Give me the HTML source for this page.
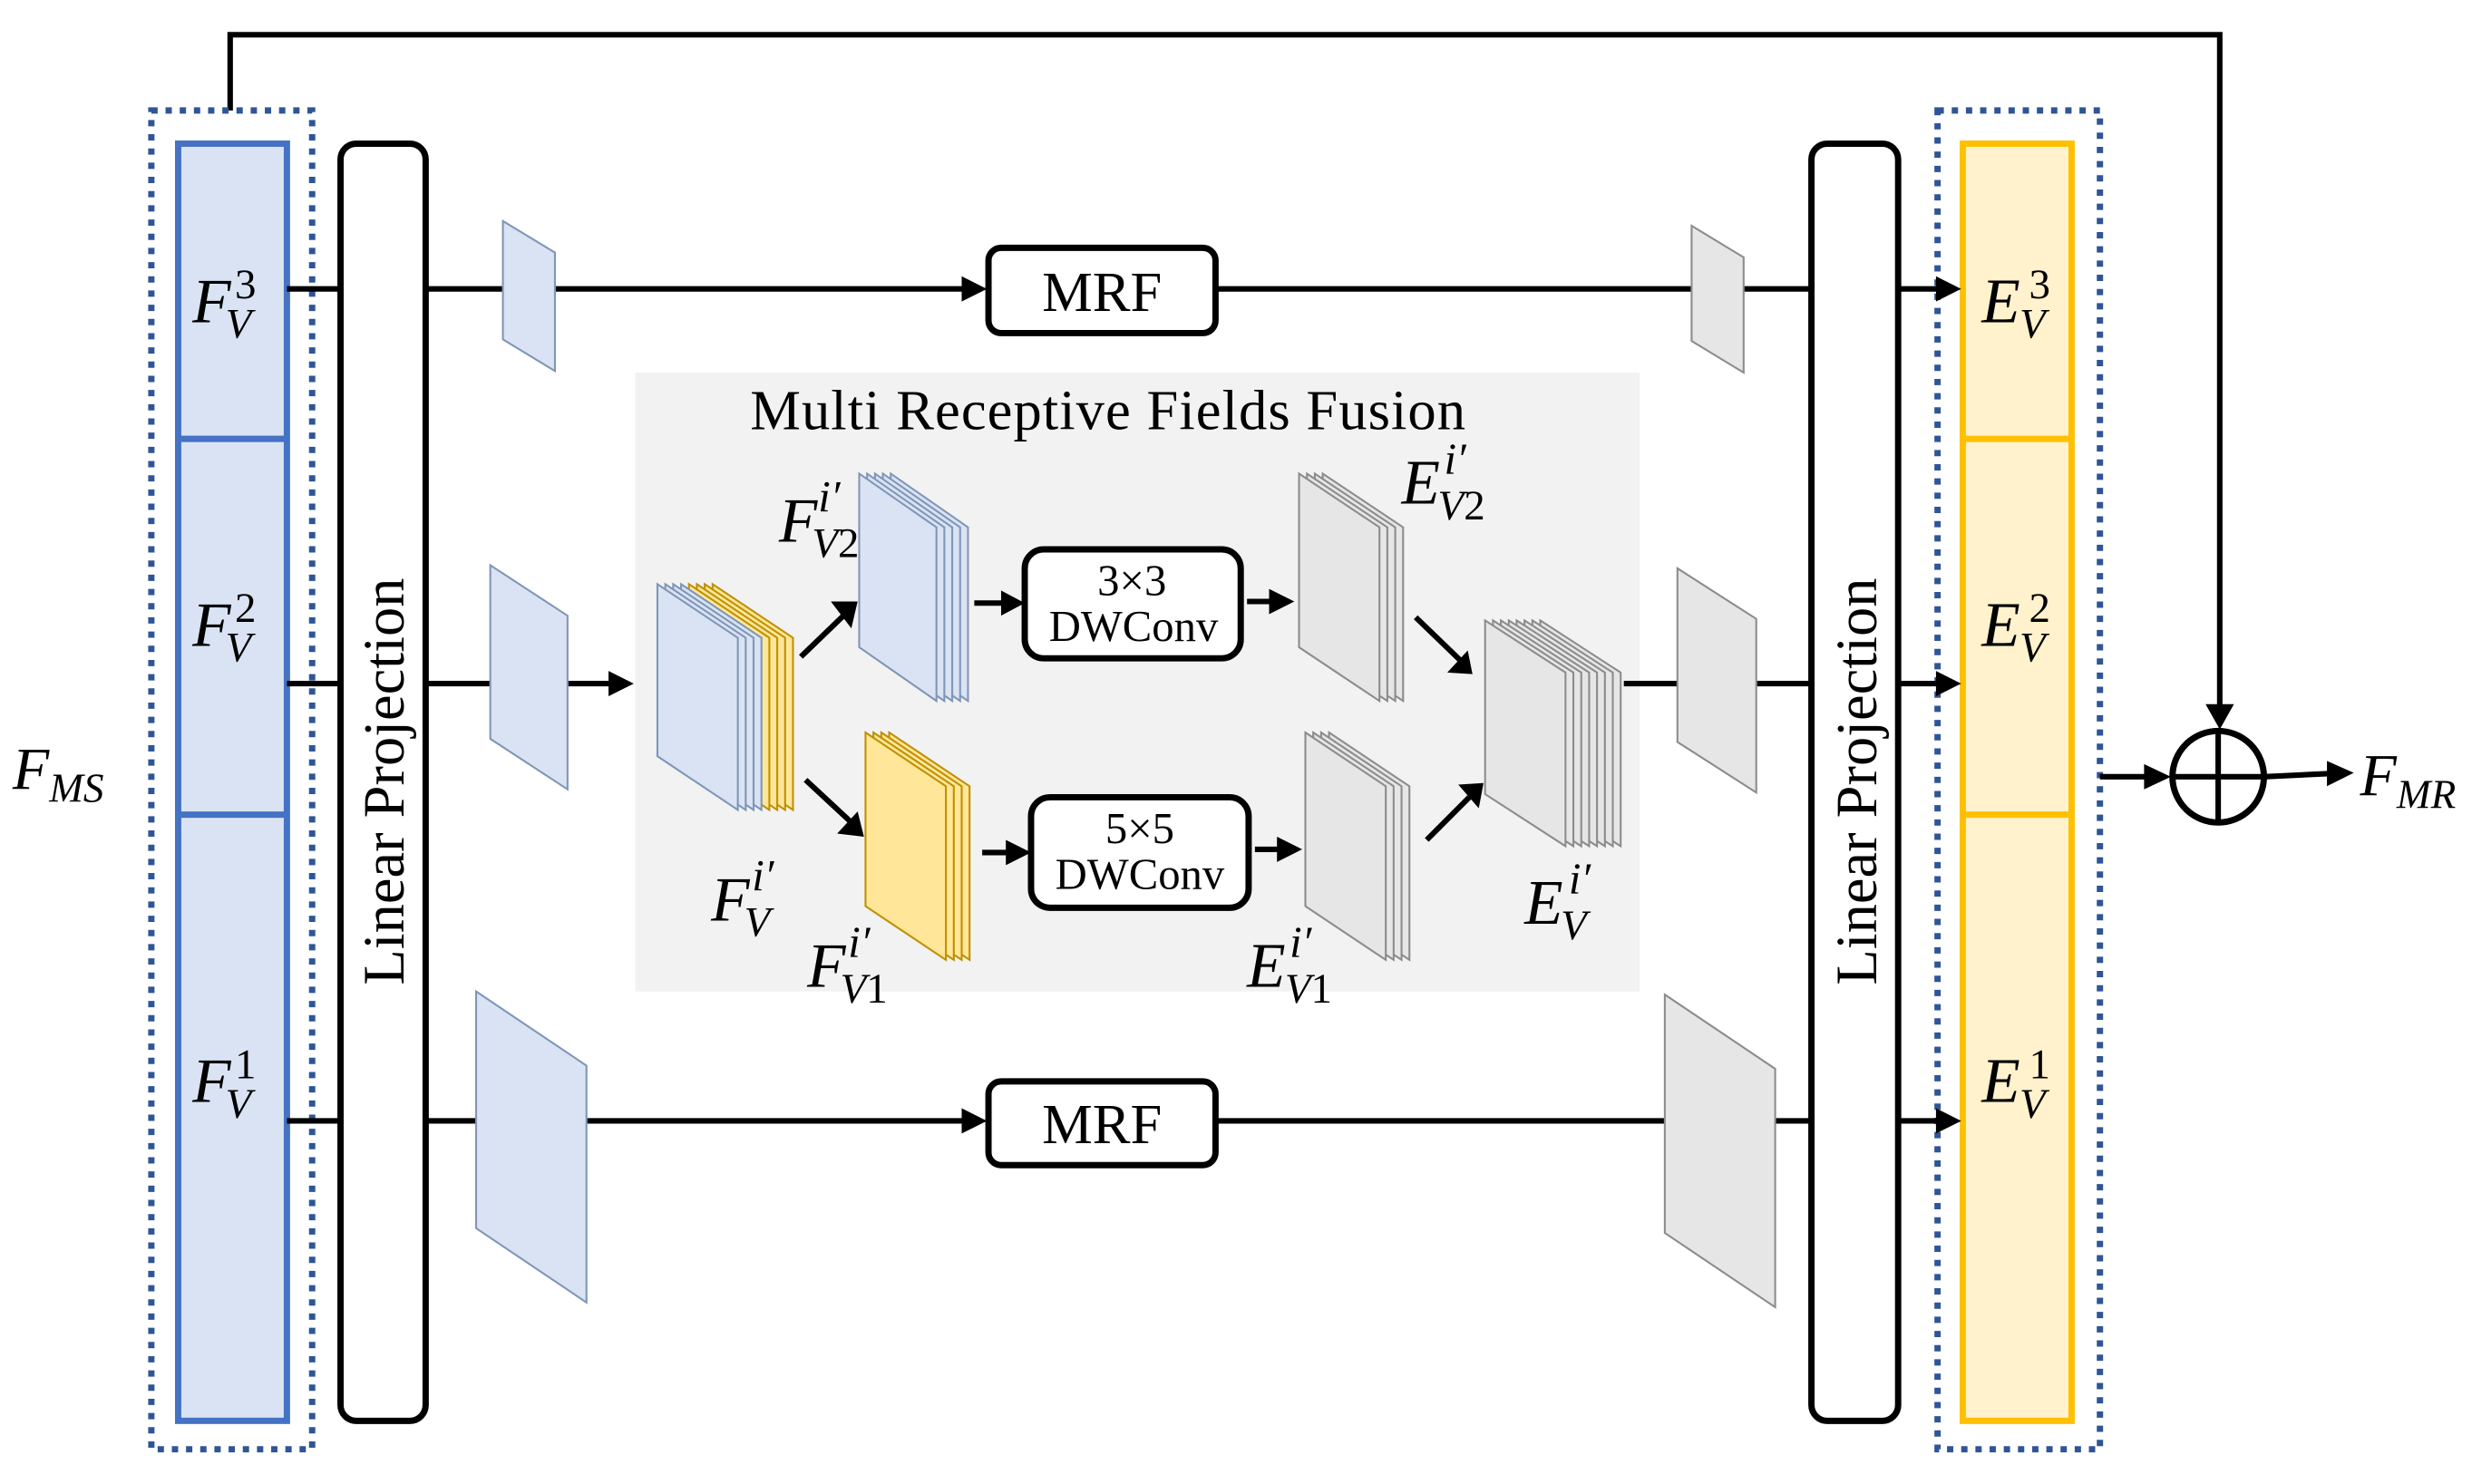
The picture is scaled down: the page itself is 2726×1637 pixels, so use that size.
<!DOCTYPE html>
<html><head><meta charset="utf-8"><style>html,body{margin:0;padding:0;background:#fff}svg{display:block}</style></head>
<body>
<svg width="2726" height="1637" viewBox="0 0 1568 940" preserveAspectRatio="none" xmlns="http://www.w3.org/2000/svg">
<style>
.ln{stroke:#000;stroke-width:3.5;fill:none}
.t{font-family:"Liberation Serif",serif;fill:#000}
.m{font-family:"Liberation Serif",serif;font-style:italic;fill:#000}
.b{fill:#dae3f3;stroke:#7f96b8;stroke-width:1.2}
.y{fill:#ffe699;stroke:#bf9000;stroke-width:1.2}
.g{fill:#e7e6e6;stroke:#8c8c8c;stroke-width:1.2}
</style>
<rect width="1568" height="940" fill="#fff"/>

<polyline class="ln" points="146,70 146,22 1408,22 1408,448"/>
<path d="M1399,446 L1417,446 L1408,462 z" fill="#000"/>

<rect x="96" y="70" width="102" height="848" fill="none" stroke="#2f5597" stroke-width="4" stroke-dasharray="4,5"/>
<rect x="113" y="91" width="69" height="809" fill="#dae3f3" stroke="#4472c4" stroke-width="4"/>
<line x1="113" y1="278" x2="182" y2="278" stroke="#4472c4" stroke-width="4"/>
<line x1="113" y1="516" x2="182" y2="516" stroke="#4472c4" stroke-width="4"/>

<rect x="1229" y="70" width="103" height="848" fill="none" stroke="#2f5597" stroke-width="4" stroke-dasharray="4,5"/>
<rect x="1245" y="91" width="69" height="809" fill="#fff2cc" stroke="#ffc000" stroke-width="4"/>
<line x1="1245" y1="278" x2="1314" y2="278" stroke="#ffc000" stroke-width="4"/>
<line x1="1245" y1="516" x2="1314" y2="516" stroke="#ffc000" stroke-width="4"/>

<rect x="403" y="236" width="637" height="392" fill="#f2f2f2"/>

<line class="ln" x1="182" y1="183" x2="216" y2="183"/>
<line class="ln" x1="270" y1="183" x2="612" y2="183"/>
<path d="M610,175 L626,183 L610,191 z"/>
<line class="ln" x1="771" y1="183" x2="1148" y2="183"/>
<line class="ln" x1="1204" y1="183" x2="1230" y2="183"/>
<path d="M1228,175 L1244,183 L1228,191 z"/>

<line class="ln" x1="182" y1="433" x2="216" y2="433"/>
<line class="ln" x1="270" y1="433" x2="388" y2="433"/>
<path d="M386,425 L402,433 L386,441 z"/>
<line class="ln" x1="1030" y1="433" x2="1148" y2="433"/>
<line class="ln" x1="1204" y1="433" x2="1230" y2="433"/>
<path d="M1228,425 L1244,433 L1228,441 z"/>

<line class="ln" x1="182" y1="710" x2="216" y2="710"/>
<line class="ln" x1="270" y1="710" x2="612" y2="710"/>
<path d="M610,702 L626,710 L610,718 z"/>
<line class="ln" x1="771" y1="710" x2="1148" y2="710"/>
<line class="ln" x1="1204" y1="710" x2="1230" y2="710"/>
<path d="M1228,702 L1244,710 L1228,718 z"/>

<line class="ln" x1="1332" y1="492" x2="1362" y2="492"/>
<path d="M1360,484 L1377,492 L1360,500 z"/>
<circle cx="1407" cy="492" r="29" fill="none" stroke="#000" stroke-width="4"/>
<line class="ln" x1="1378" y1="492" x2="1436" y2="492"/>
<line class="ln" x1="1407" y1="463" x2="1407" y2="521"/>
<line class="ln" x1="1436" y1="492" x2="1478" y2="490"/>
<path d="M1476,482 L1493,489.5 L1476,498 z"/>

<rect x="216" y="91" width="54" height="809" rx="10" fill="#fff" stroke="#000" stroke-width="4"/>
<text class="t" font-size="37" transform="translate(256,495) rotate(-90)" text-anchor="middle">Linear Projection</text>
<rect x="1149" y="91" width="55" height="809" rx="10" fill="#fff" stroke="#000" stroke-width="4"/>
<text class="t" font-size="37" transform="translate(1190,495) rotate(-90)" text-anchor="middle">Linear Projection</text>

<rect x="627" y="157" width="144" height="54" rx="8" fill="#fff" stroke="#000" stroke-width="4"/>
<text class="t" font-size="36" x="699" y="197" text-anchor="middle">MRF</text>
<rect x="627" y="685" width="144" height="53" rx="8" fill="#fff" stroke="#000" stroke-width="4"/>
<text class="t" font-size="36" x="699" y="724" text-anchor="middle">MRF</text>

<polygon class="b" points="319,140 352,160 352,235 319,215"/>
<polygon class="b" points="311,358 360,390 360,500 311,468"/>
<polygon class="b" points="302,628 372,675 372,825 302,778"/>
<polygon class="g" points="1073,143 1106,163 1106,236 1073,216"/>
<polygon class="g" points="1064,360 1114,392 1114,502 1064,470"/>
<polygon class="g" points="1056,630 1126,677 1126,828 1056,781"/>

<text class="t" font-size="36" x="703" y="272" text-anchor="middle" letter-spacing="0.6">Multi Receptive Fields Fusion</text>

<polygon class="y" points="452,370 503,404 503,513 452,479"/>
<polygon class="y" points="447,370 498,404 498,513 447,479"/>
<polygon class="y" points="442,370 493,404 493,513 442,479"/>
<polygon class="y" points="437,370 488,404 488,513 437,479"/>
<polygon class="b" points="432,370 483,404 483,513 432,479"/>
<polygon class="b" points="427,370 478,404 478,513 427,479"/>
<polygon class="b" points="422,370 473,404 473,513 422,479"/>
<polygon class="b" points="417,370 468,404 468,513 417,479"/>

<polygon class="b" points="565,300 614,334 614,444 565,410"/>
<polygon class="b" points="560,300 609,334 609,444 560,410"/>
<polygon class="b" points="555,300 604,334 604,444 555,410"/>
<polygon class="b" points="550,300 599,334 599,444 550,410"/>
<polygon class="b" points="545,300 594,334 594,444 545,410"/>

<polygon class="y" points="564,464 615,498 615,608 564,574"/>
<polygon class="y" points="559,464 610,498 610,608 559,574"/>
<polygon class="y" points="554,464 605,498 605,608 554,574"/>
<polygon class="y" points="549,464 600,498 600,608 549,574"/>

<polygon class="g" points="839,300 890,334 890,444 839,410"/>
<polygon class="g" points="834,300 885,334 885,444 834,410"/>
<polygon class="g" points="829,300 880,334 880,444 829,410"/>
<polygon class="g" points="824,300 875,334 875,444 824,410"/>

<polygon class="g" points="843,464 894,498 894,608 843,574"/>
<polygon class="g" points="838,464 889,498 889,608 838,574"/>
<polygon class="g" points="833,464 884,498 884,608 833,574"/>
<polygon class="g" points="828,464 879,498 879,608 828,574"/>

<polygon class="g" points="977,393 1028,426 1028,536 977,503"/>
<polygon class="g" points="972,393 1023,426 1023,536 972,503"/>
<polygon class="g" points="967,393 1018,426 1018,536 967,503"/>
<polygon class="g" points="962,393 1013,426 1013,536 962,503"/>
<polygon class="g" points="957,393 1008,426 1008,536 957,503"/>
<polygon class="g" points="952,393 1003,426 1003,536 952,503"/>
<polygon class="g" points="947,393 998,426 998,536 947,503"/>
<polygon class="g" points="942,393 993,426 993,536 942,503"/>

<rect x="650" y="348" width="137" height="69" rx="12" fill="#fff" stroke="#000" stroke-width="4"/>
<text class="t" font-size="28" x="718" y="377" text-anchor="middle">3×3</text>
<text class="t" font-size="28" x="719" y="406" text-anchor="middle">DWConv</text>
<rect x="654" y="505" width="138" height="70" rx="12" fill="#fff" stroke="#000" stroke-width="4"/>
<text class="t" font-size="28" x="723" y="534" text-anchor="middle">5×5</text>
<text class="t" font-size="28" x="723" y="563" text-anchor="middle">DWConv</text>

<line class="ln" x1="508" y1="416" x2="535" y2="390"/>
<path d="M527,381 L544,381 L540,398 z"/>
<line class="ln" x1="511" y1="494" x2="539" y2="520"/>
<path d="M531,528 L548,530 L544,514 z"/>
<line class="ln" x1="618" y1="382" x2="637" y2="382"/>
<path d="M635,374 L650,382 L635,390 z"/>
<line class="ln" x1="791" y1="381" x2="807" y2="381"/>
<path d="M805,373 L821,381 L805,389 z"/>
<line class="ln" x1="623" y1="540" x2="640" y2="540"/>
<path d="M638,532 L654,540 L638,548 z"/>
<line class="ln" x1="796" y1="538" x2="812" y2="538"/>
<path d="M810,530 L826,538 L810,546 z"/>
<line class="ln" x1="898" y1="391" x2="926" y2="418"/>
<path d="M918,426 L934,427 L931,412 z"/>
<line class="ln" x1="905" y1="532" x2="932" y2="505"/>
<path d="M925,497 L941,496 L938,512 z"/>

<g class="m">
<text x="8" y="500" font-size="38">F<tspan font-size="26" dy="8">MS</tspan></text>
<text x="1497" y="504" font-size="38">F<tspan font-size="26" dy="8">MR</tspan></text>

<text x="122" y="204" font-size="40">F</text><text x="143" y="214" font-size="27">V</text><text x="149" y="189" font-size="27" font-style="normal">3</text>
<text x="122" y="409" font-size="40">F</text><text x="143" y="419" font-size="27">V</text><text x="149" y="394" font-size="27" font-style="normal">2</text>
<text x="122" y="698" font-size="40">F</text><text x="143" y="708" font-size="27">V</text><text x="149" y="683" font-size="27" font-style="normal">1</text>

<text x="1257" y="204" font-size="40">E</text><text x="1281" y="214" font-size="27">V</text><text x="1287" y="189" font-size="27" font-style="normal">3</text>
<text x="1257" y="409" font-size="40">E</text><text x="1281" y="419" font-size="27">V</text><text x="1287" y="394" font-size="27" font-style="normal">2</text>
<text x="1257" y="698" font-size="40">E</text><text x="1281" y="708" font-size="27">V</text><text x="1287" y="683" font-size="27" font-style="normal">1</text>

<text x="494" y="343" font-size="40">F</text><text x="515" y="353" font-size="27">V<tspan font-style="normal">2</tspan></text><text x="519" y="324" font-size="28">i′</text>
<text x="889" y="319" font-size="40">E</text><text x="912" y="329" font-size="27">V<tspan font-style="normal">2</tspan></text><text x="916" y="300" font-size="28">i′</text>
<text x="451" y="583" font-size="40">F</text><text x="472" y="593" font-size="27">V</text><text x="477" y="564" font-size="28">i′</text>
<text x="512" y="625" font-size="40">F</text><text x="533" y="635" font-size="27">V<tspan font-style="normal">1</tspan></text><text x="538" y="606" font-size="28">i′</text>
<text x="791" y="625" font-size="40">E</text><text x="815" y="635" font-size="27">V<tspan font-style="normal">1</tspan></text><text x="818" y="606" font-size="28">i′</text>
<text x="967" y="585" font-size="40">E</text><text x="990" y="595" font-size="27">V</text><text x="995" y="566" font-size="28">i′</text>
</g>
</svg>
</body></html>
